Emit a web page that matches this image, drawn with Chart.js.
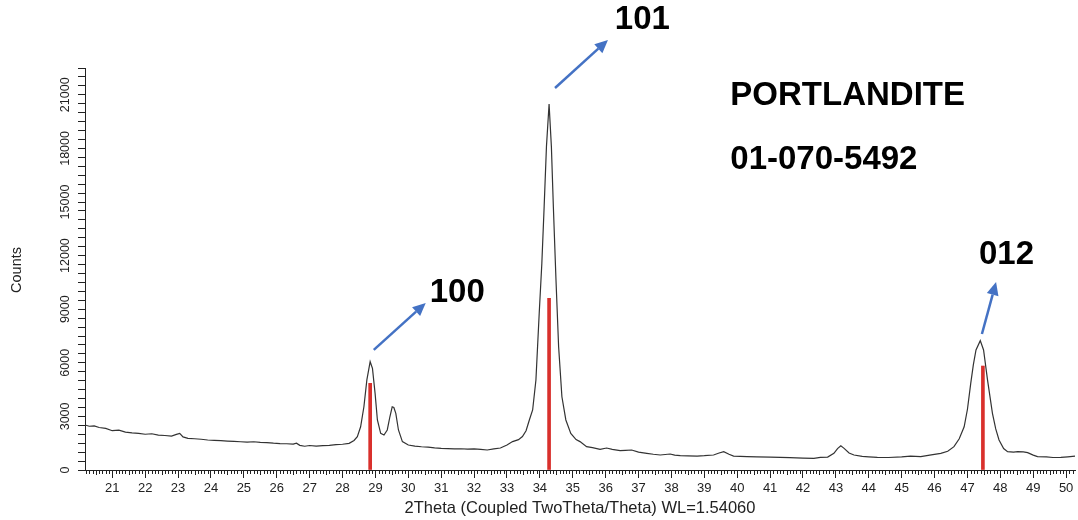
<!DOCTYPE html>
<html>
<head>
<meta charset="utf-8">
<script src="https://cdn.jsdelivr.net/npm/chart.js@4.4.1/dist/chart.umd.min.js"></script>
<style>
  body { margin: 0; background: #fff; }
  canvas { display: block; }
</style>
</head>
<body>
<canvas id="canvas" width="1078" height="520"></canvas>
<script>
// measured pattern, 2theta (deg) and counts
var twoTheta = [20.17,20.3,20.45,20.6,20.8,21.0,21.2,21.4,21.6,21.8,22.0,22.2,22.4,22.6,22.8,22.95,23.05,23.15,23.3,23.5,
  23.7,23.9,24.1,24.3,24.5,24.7,24.9,25.1,25.3,25.5,25.7,25.9,26.1,26.3,26.5,26.6,26.7,26.85,27.0,27.2,
  27.4,27.6,27.8,28.0,28.2,28.35,28.45,28.55,28.65,28.74,28.84,28.91,28.99,29.06,29.16,29.26,29.36,29.44,29.51,29.56,
  29.62,29.70,29.82,30.0,30.2,30.4,30.6,30.8,31.0,31.2,31.4,31.6,31.8,32.0,32.2,32.4,32.6,32.8,33.0,33.17,
  33.35,33.47,33.58,33.68,33.78,33.88,33.98,34.06,34.13,34.20,34.28,34.35,34.41,34.49,34.57,34.67,34.79,34.94,35.1,35.22,
  35.42,35.6,35.83,36.03,36.2,36.44,36.6,36.79,37.0,37.25,37.45,37.66,37.96,38.1,38.27,38.5,38.78,39.0,39.28,39.45,
  39.59,39.75,39.89,40.1,40.3,40.6,41.0,41.31,41.6,42.0,42.33,42.53,42.75,42.94,43.05,43.15,43.25,43.4,43.55,43.8,
  44.0,44.26,44.6,45.0,45.27,45.58,45.9,46.19,46.4,46.59,46.75,46.90,47.00,47.10,47.18,47.26,47.39,47.49,47.61,47.76,
  47.86,47.96,48.1,48.22,48.4,48.53,48.7,48.83,49.0,49.13,49.4,49.6,49.84,50.05,50.27];
var counts = [2520,2450,2470,2380,2330,2200,2230,2120,2080,2050,2000,2030,1950,1930,1900,1990,2050,1850,1770,1750,
  1720,1680,1660,1640,1620,1600,1580,1560,1580,1550,1530,1500,1480,1470,1450,1500,1380,1330,1370,1340,
  1360,1380,1420,1440,1490,1650,1860,2420,3540,5040,6060,5690,4290,2800,2050,1960,2240,2980,3540,3500,
  3170,2240,1590,1400,1340,1300,1280,1240,1210,1200,1180,1190,1170,1180,1150,1120,1180,1230,1400,1590,
  1700,1870,2200,2800,3360,5040,8770,11570,14740,18100,20490,18100,14740,10630,6900,4100,2800,2050,1700,1590,
  1305,1250,1160,1230,1150,1080,1100,1120,1000,935,880,840,895,830,800,790,780,800,840,950,
  1025,880,780,760,745,730,720,710,690,670,655,710,720,935,1200,1350,1210,950,840,760,
  740,710,700,730,780,745,850,935,1050,1305,1750,2420,3400,4850,5900,6720,7240,6720,5040,3170,
  2300,1680,1200,1025,1000,1025,1010,970,830,745,730,700,710,740,780];

// reference pattern 01-070-5492 (portlandite)
var refTheta = [28.84, 34.28, 47.47];
var refCounts = [4850, 9610, 5820];

var xTickLabels = [];
for (var d = 21; d <= 50; d++) xTickLabels.push(d);
var yTickLabels = [0, 3000, 6000, 9000, 12000, 15000, 18000, 21000];

// peak labels and arrows, in data units
var peakNames = ['100', '101', '012'];
var peakLabelPos = [[30.65, 9910], [36.28, 25190], [47.35, 12030]];
var arrowFrom = [[28.95, 6720], [34.46, 21380], [47.44, 7610]];
var arrowTo = [[30.53, 9350], [36.07, 24070], [47.87, 10520]];
var phaseText = ['PORTLANDITE', '01-070-5492'];
var phasePos = [[39.79, 20930], [39.79, 17350]];

var pattern = twoTheta.map(function(t, i){ return {x: t, y: counts[i]}; });
var sticks = refTheta.map(function(t, i){ return {x: t, y: refCounts[i]}; });

var extras = {
  id: 'extras',
  afterDraw: function(chart){
    var ctx = chart.ctx;
    var xs = chart.scales.x, ys = chart.scales.y;
    var axisY = chart.chartArea.bottom;
    ctx.save();
    // minor ticks on 2theta axis
    ctx.strokeStyle = '#222';
    ctx.lineWidth = 1;
    for (var i = Math.ceil(xs.min * 10); i <= Math.floor(xs.max * 10); i++) {
      if (i % 10 === 0) continue;
      var px = Math.round(xs.getPixelForValue(i / 10)) + 0.5;
      var len = (i % 5 === 0) ? 5 : 4;
      ctx.beginPath();
      ctx.moveTo(px, axisY);
      ctx.lineTo(px, axisY + len);
      ctx.stroke();
    }
    // rotated count labels
    ctx.fillStyle = '#222';
    ctx.font = '12.5px "Liberation Sans", Arial, sans-serif';
    ctx.textAlign = 'center';
    ctx.textBaseline = 'middle';
    yTickLabels.forEach(function(v){
      ctx.save();
      ctx.translate(66, ys.getPixelForValue(v));
      ctx.rotate(-Math.PI / 2);
      ctx.fillText(String(v), 0, 0);
      ctx.restore();
    });
    // axis titles
    ctx.font = '14.5px "Liberation Sans", Arial, sans-serif';
    ctx.save();
    ctx.translate(17, 270);
    ctx.rotate(-Math.PI / 2);
    ctx.fillText('Counts', 0, 0);
    ctx.restore();
    ctx.font = '16.5px "Liberation Sans", Arial, sans-serif';
    ctx.fillText('2Theta (Coupled TwoTheta/Theta) WL=1.54060', 580, 508);

    // arrows
    ctx.strokeStyle = '#4472C4';
    ctx.fillStyle = '#4472C4';
    ctx.lineWidth = 2.5;
    arrowFrom.forEach(function(a, i){
      var x1 = xs.getPixelForValue(a[0]), y1 = ys.getPixelForValue(a[1]);
      var x2 = xs.getPixelForValue(arrowTo[i][0]), y2 = ys.getPixelForValue(arrowTo[i][1]);
      var ang = Math.atan2(y2 - y1, x2 - x1);
      var hl = 13, hw = 6;
      var bx = x2 - hl * Math.cos(ang), by = y2 - hl * Math.sin(ang);
      ctx.beginPath();
      ctx.moveTo(x1, y1);
      ctx.lineTo(bx, by);
      ctx.stroke();
      ctx.beginPath();
      ctx.moveTo(x2, y2);
      ctx.lineTo(bx + hw * Math.sin(ang), by - hw * Math.cos(ang));
      ctx.lineTo(bx - hw * Math.sin(ang), by + hw * Math.cos(ang));
      ctx.closePath();
      ctx.fill();
    });

    // peak and phase labels
    ctx.fillStyle = '#000';
    ctx.font = 'bold 33px "Liberation Sans", Arial, sans-serif';
    ctx.textAlign = 'left';
    peakNames.forEach(function(n, i){
      ctx.fillText(n, xs.getPixelForValue(peakLabelPos[i][0]), ys.getPixelForValue(peakLabelPos[i][1]));
    });
    phaseText.forEach(function(t, i){
      ctx.fillText(t, xs.getPixelForValue(phasePos[i][0]), ys.getPixelForValue(phasePos[i][1]));
    });
    ctx.restore();
  }
};

const ctx = document.getElementById('canvas').getContext('2d');
const myChart = new Chart(ctx, {
  type: 'bar',
  data: {
    datasets: [{
      type: 'bar',
      label: 'reference',
      data: sticks,
      backgroundColor: '#d9302c',
      barThickness: 3,
      order: 0
    }, {
      type: 'line',
      label: 'pattern',
      data: pattern,
      borderColor: '#333333',
      borderWidth: 1.2,
      pointRadius: 0,
      tension: 0,
      order: 1
    }]
  },
  options: {
    responsive: false,
    animation: false,
    layout: { padding: { top: 68, right: 3, left: 0, bottom: 0 } },
    plugins: { legend: { display: false }, tooltip: { enabled: false } },
    scales: {
      x: {
        type: 'linear',
        min: 20.17,
        max: 50.27,
        offset: false,
        afterBuildTicks: function(scale){
          scale.ticks = xTickLabels.map(function(v){ return {value: v}; });
        },
        afterFit: function(scale){ scale.height = 50; },
        grid: { drawOnChartArea: false, offset: false, tickLength: 8, color: '#222' },
        border: { display: true, color: '#222', width: 1 },
        ticks: {
          padding: 3,
          color: '#222',
          font: { family: '"Liberation Sans", Arial, sans-serif', size: 13 },
          maxRotation: 0,
          autoSkip: false
        }
      },
      y: {
        min: 0,
        max: 22500,
        afterBuildTicks: function(scale){
          var t = [];
          for (var v = 0; v <= 22500; v += 500) t.push({value: v});
          scale.ticks = t;
        },
        afterFit: function(scale){ scale.width = 85; },
        grid: { drawOnChartArea: false, tickLength: 7, color: '#222' },
        border: { display: true, color: '#222', width: 1 },
        ticks: { display: false }
      }
    }
  },
  plugins: [extras]
});
</script>
</body>
</html>
